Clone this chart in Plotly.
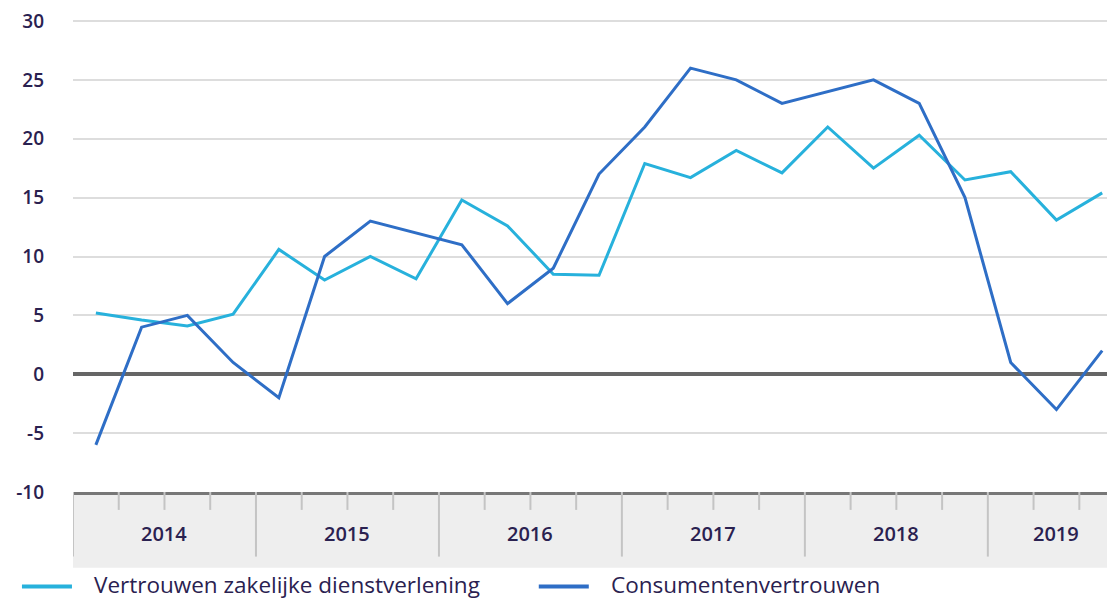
import plotly.graph_objects as go

# Quarters 2014 Q1 .. 2019 Q3
years = ["2014", "2015", "2016", "2017", "2018", "2019"]
quarters_per_year = [4, 4, 4, 4, 4, 3]
quarter_labels = [f"{y} Q{q+1}" for y, n in zip(years, quarters_per_year) for q in range(n)]

dienstverlening = [5.2, 4.6, 4.1, 5.1, 10.6, 8.0, 10.0, 8.1, 14.8, 12.6, 8.5, 8.4,
                   17.9, 16.7, 19.0, 17.1, 21.0, 17.5, 20.3, 16.5, 17.2, 13.1, 15.4]
consumenten = [-6, 4, 5, 1, -2, 10, 13, 12, 11, 6, 9, 17,
               21, 26, 25, 23, 24, 25, 23, 15, 1, -3, 2]

series_names = ["Vertrouwen zakelijke dienstverlening", "Consumentenvertrouwen"]
y_ticks = [-10, -5, 0, 5, 10, 15, 20, 25, 30]

LIGHT = "#27b1dc"
DARK = "#2e6ec6"
TEXT = "#2a2150"
FONT = "Open Sans"

x = list(range(len(quarter_labels)))

fig = go.Figure()
fig.add_trace(go.Scatter(x=x, y=dienstverlening, mode="lines", name=series_names[0],
                         line=dict(color=LIGHT, width=3), customdata=quarter_labels,
                         hovertemplate="%{customdata}: %{y}<extra></extra>"))
fig.add_trace(go.Scatter(x=x, y=consumenten, mode="lines", name=series_names[1],
                         line=dict(color=DARK, width=3), customdata=quarter_labels,
                         hovertemplate="%{customdata}: %{y}<extra></extra>"))

PH = 476.0  # plot height in px

shapes = []
# grey category band below the plot
shapes.append(dict(type="rect", xref="paper", yref="paper", x0=0, x1=1.02, y0=0, y1=-76.3 / PH,
                   fillcolor="#eeeeee", line=dict(width=0), layer="below"))
# year dividers and quarter ticks
start = 0
annotations = []
for yr, n in zip(years, quarters_per_year):
    shapes.append(dict(type="line", xref="x", yref="paper", x0=start - 0.5, x1=start - 0.5,
                       y0=0, y1=-65 / PH, line=dict(color="#c4c4c4", width=2)))
    for q in range(1, n):
        shapes.append(dict(type="line", xref="x", yref="paper", x0=start + q - 0.5,
                           x1=start + q - 0.5, y0=0, y1=-18 / PH,
                           line=dict(color="#c4c4c4", width=2)))
    annotations.append(dict(x=start + (n - 1) / 2, y=-42 / PH, xref="x", yref="paper",
                            text=yr, showarrow=False, xanchor="center", yanchor="middle",
                            font=dict(family=FONT, size=20, color=TEXT, weight=600)))
    start += n

# manual legend
legend_items = [(series_names[0], LIGHT, -0.049), (series_names[1], DARK, 0.447)]
for name, col, x0 in legend_items:
    shapes.append(dict(type="line", xref="paper", yref="paper", x0=x0, x1=x0 + 0.048,
                       y0=-95 / PH, y1=-95 / PH, line=dict(color=col, width=4)))
    annotations.append(dict(x=x0 + 0.067, y=-93 / PH, xref="paper", yref="paper", text=name,
                            showarrow=False, xanchor="left", yanchor="middle",
                            font=dict(family=FONT, size=22.5, color=TEXT)))

# the page body has an 8px default margin, so the figure is sized to end at the window edge
fig.update_layout(
    width=1107, height=591,
    margin=dict(l=65, r=0, t=8, b=107),
    paper_bgcolor="white", plot_bgcolor="white",
    showlegend=False,
    shapes=shapes, annotations=annotations,
    xaxis=dict(range=[-0.5, 22.28], showgrid=False, zeroline=False, showticklabels=False,
               ticks="", showline=True, linecolor="#777777", linewidth=2.5, fixedrange=True),
    yaxis=dict(range=[-10, 30.169], tickvals=y_ticks, ticktext=[str(v) for v in y_ticks],
               showgrid=True, gridcolor="#dddddd", gridwidth=2,
               zeroline=True, zerolinecolor="#666666", zerolinewidth=3.5,
               ticks="", ticklabelstandoff=28, showline=False, ticklabeloverflow="allow",
               tickfont=dict(family=FONT, size=19, color=TEXT, weight=600), fixedrange=True),
)

fig.write_html("out.html")
